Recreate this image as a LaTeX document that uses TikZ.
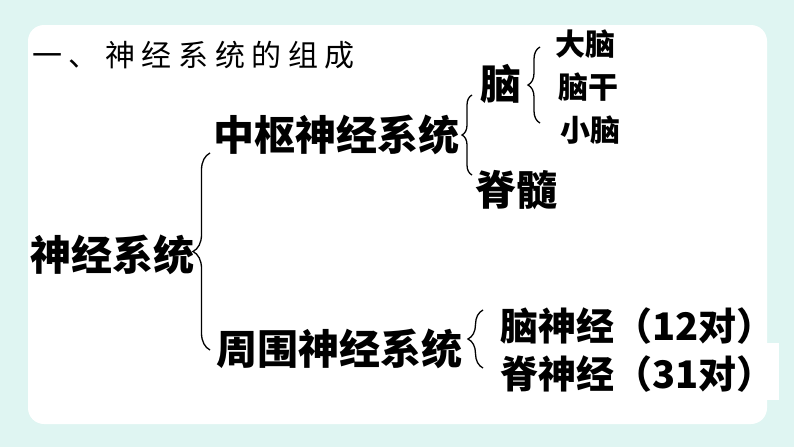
\documentclass[tikz,border=0pt]{standalone}
\usepackage{fontspec}
\newfontfamily\cjk{Noto Sans CJK SC}
\newfontfamily\cjktitle[LetterSpace=22]{Noto Sans CJK SC}
\usetikzlibrary{decorations.pathreplacing}
\definecolor{bgteal}{RGB}{223,245,242}
\begin{document}
\begin{tikzpicture}[
  x=1pt,y=-1pt,
  big/.style={anchor=west,inner sep=0pt,font=\cjk\bfseries\fontsize{41}{41}\selectfont},
  mid/.style={anchor=west,inner sep=0pt,font=\cjk\bfseries\fontsize{38}{38}\selectfont},
  small/.style={anchor=west,inner sep=0pt,font=\cjk\bfseries\fontsize{30}{30}\selectfont},
  brc/.style={decorate,decoration={brace,amplitude=#1},line width=1.3pt},
  brc/.default=12
]
\useasboundingbox (0,0) rectangle (794,447);
\fill[bgteal] (0,0) rectangle (794,447);
\fill[white,rounded corners=16pt] (28,25) rectangle (767,424);
\fill[white] (700,343) rectangle (779,400);
\node[anchor=west,inner sep=0pt,font=\cjktitle\fontsize{30}{30}\selectfont] (title) at (32,55) {一、神经系统的组成};
\node[big] (ns)  at (30,255)  {神经系统};
\node[big] (zs)  at (213,135) {中枢神经系统};
\node[big] (zw)  at (216,349) {周围神经系统};
\node[big] (nao) at (480,84)  {脑};
\node[big] (jisui) at (475,190) {脊髓};
\node[small] (dn) at (555,44)  {大脑};
\node[small] (ng) at (558,87)  {脑干};
\node[small] (xn) at (560,130) {小脑};
\node[mid] (nsj) at (500,326) {脑神经（12对）};
\node[mid] (jsj) at (500,374) {脊神经（31对）};
% braces
\coordinate (b1s) at (210,350);
\coordinate (b1e) at (210,153);
\coordinate (b2s) at (472,175);
\coordinate (b2e) at (472,95);
\coordinate (b3s) at (540,123);
\coordinate (b3e) at (540,47);
\coordinate (b4s) at (483,368);
\coordinate (b4e) at (483,310);
\draw[brc=17] (b1s) -- (b1e);
\draw[brc=10] (b2s) -- (b2e);
\draw[brc=12] (b3s) -- (b3e);
\draw[brc=15] (b4s) -- (b4e);
\end{tikzpicture}
\end{document}
